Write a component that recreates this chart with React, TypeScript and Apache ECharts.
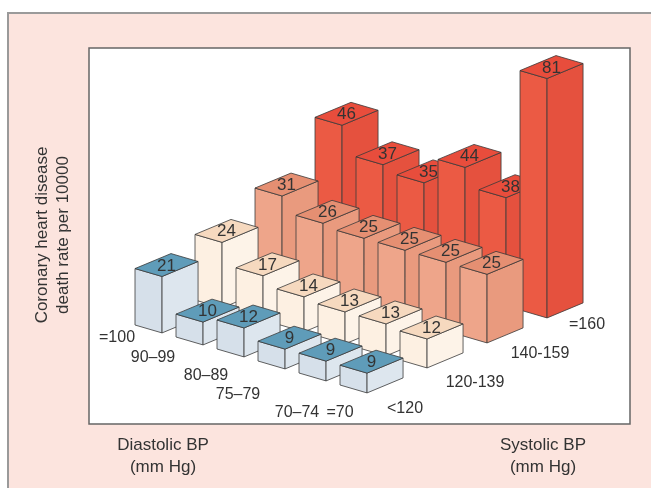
import * as echarts from "echarts";
import { useEffect, useRef } from "react";

const diastolic = ["=100", "90–99", "80–89", "75–79", "70–74", "=70"];
const systolic = ["<120", "120-139", "140-159", "=160"];
// rows by systolic, values by diastolic
const rateLow = [21, 10, 12, 9, 9, 9];
const rate120 = [24, 17, 14, 13, 13, 12];
const rate140 = [31, 26, 25, 25, 25, 25];
const rate160 = [46, 37, 35, 44, 38, 81];
const rows = [rateLow, rate120, rate140, rate160];

const topColors = ["#5f9cb9", "#f6d9bf", "#e58f72", "#e84d3c"];
const frontColors = ["#d6e0ea", "#fdf0e2", "#eea58a", "#eb5a44"];
const sideColors = ["#dde6ee", "#fdf3e8", "#e99a7e", "#e5513e"];

// projection of the floor grid (pixels)
const ORIGIN = [135, 325];
const U = [41, 12]; // diastolic step
const W = [60, -25]; // systolic step
const FU = 0.66;
const FW = 0.6;

export default function App() {
  const ref = useRef<HTMLDivElement>(null);

  useEffect(() => {
    const chart = echarts.init(ref.current, null, { renderer: "svg" });

    const data: number[][] = [];
    for (let j = systolic.length - 1; j >= 0; j--) {
      for (let i = 0; i < diastolic.length; i++) {
        data.push([i, j, rows[j][i]]);
      }
    }

    const renderItem = (params: any, api: any) => {
      const i = api.value(0);
      const j = api.value(1);
      const v = api.value(2);
      const h = api.coord([0, 2.5])[1] - api.coord([0, v])[1];
      const bx = ORIGIN[0] + U[0] * i + W[0] * j;
      const by = ORIGIN[1] + U[1] * i + W[1] * j;
      const u = [U[0] * FU, U[1] * FU];
      const w = [W[0] * FW, W[1] * FW];
      const p0 = [bx, by];
      const p1 = [bx + u[0], by + u[1]];
      const p2 = [bx + u[0] + w[0], by + u[1] + w[1]];
      const p3 = [bx + w[0], by + w[1]];
      const up = (p: number[]) => [p[0], p[1] - h];
      const line = { stroke: "#3a3a3a", lineWidth: 0.8 };
      return {
        type: "group",
        children: [
          {
            type: "polygon",
            shape: { points: [p0, p1, up(p1), up(p0)] },
            style: { fill: frontColors[j], ...line },
          },
          {
            type: "polygon",
            shape: { points: [p1, p2, up(p2), up(p1)] },
            style: { fill: sideColors[j], ...line },
          },
          {
            type: "polygon",
            shape: { points: [up(p0), up(p1), up(p2), up(p3)] },
            style: { fill: topColors[j], ...line },
          },
          {
            type: "text",
            style: {
              text: String(v),
              x: bx + (u[0] + w[0]) / 2,
              y: by + (u[1] + w[1]) / 2 - h,
              align: "center",
              verticalAlign: "middle",
              fill: "#333",
              font: "17px Liberation Sans, Arial, sans-serif",
            },
          },
        ],
      };
    };

    const txt = (text: string, x: number, y: number, extra: any = {}) => ({
      type: "text",
      x,
      y,
      style: {
        text,
        fill: "#333",
        font: "16px Liberation Sans, Arial, sans-serif",
        align: "center",
        verticalAlign: "middle",
        ...extra,
      },
    });

    const diaPos = [
      [117, 336],
      [153, 356],
      [206, 374],
      [238, 393],
      [297, 411],
      [340, 411],
    ];
    const sysPos = [
      [405, 407],
      [475, 381],
      [540, 352],
      [587, 323],
    ];

    chart.setOption({
      animation: false,
      grid: { left: 0, top: 0, width: 651, height: 305 },
      xAxis: { type: "value", show: false, min: 0, max: 10 },
      yAxis: { type: "value", show: false, min: 2.5, max: 102.5 },
      graphic: [
        {
          type: "rect",
          z: -10,
          shape: { x: 8, y: 13, width: 660, height: 490 },
          style: { fill: "#fce4de", stroke: "#9a9a9a", lineWidth: 2 },
        },
        {
          type: "rect",
          z: -9,
          shape: { x: 89, y: 48, width: 541, height: 376 },
          style: { fill: "#ffffff", stroke: "#666", lineWidth: 1.5 },
        },
        txt("Coronary heart disease\ndeath rate per 10000", 52, 235, {
          lineHeight: 21,
          font: "17px Liberation Sans, Arial, sans-serif",
        }),
        ...diastolic.map((d, k) => txt(d, diaPos[k][0], diaPos[k][1])),
        ...systolic.map((s, k) => txt(s, sysPos[k][0], sysPos[k][1])),
        txt("Diastolic BP\n(mm Hg)", 163, 455, { lineHeight: 22, font: "17px Liberation Sans, Arial, sans-serif" }),
        txt("Systolic BP\n(mm Hg)", 543, 455, { lineHeight: 22, font: "17px Liberation Sans, Arial, sans-serif" }),
      ].map((g: any, k: number) =>
        k === 2 ? { ...g, rotation: Math.PI / 2 } : g
      ),
      series: [
        {
          type: "custom",
          renderItem,
          data,
          z: 5,
        },
      ],
    });

    return () => chart.dispose();
  }, []);

  return (
    <div
      ref={ref}
      style={{ position: "fixed", left: 0, top: 0, width: 651, height: 488 }}
    />
  );
}
